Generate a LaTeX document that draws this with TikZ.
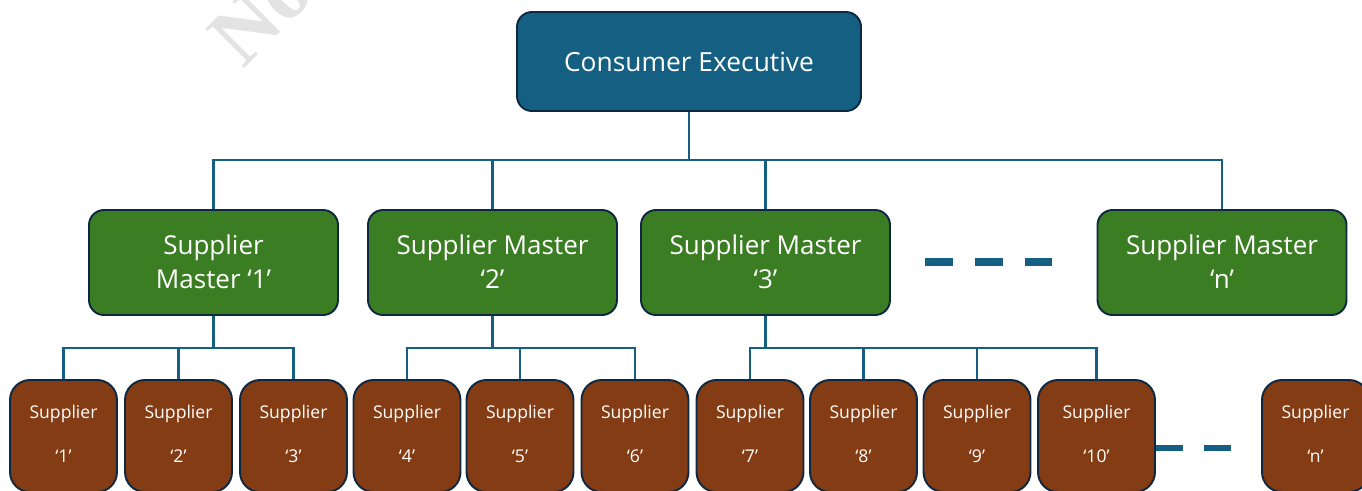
\documentclass[tikz,border=0pt]{standalone}
\usepackage{fontspec}
\setmainfont{Open Sans}
\newfontfamily\markfont{Liberation Serif}
\usepackage{tikz}

\definecolor{execblue}{HTML}{156082}
\definecolor{mastergreen}{HTML}{3B7D23}
\definecolor{supplierbrown}{HTML}{843C15}
\definecolor{edgenavy}{HTML}{0E2841}
\definecolor{markgray}{HTML}{E3E3E3}

\begin{document}
\begin{tikzpicture}[every node/.style={text=white,inner sep=0pt},
  exec/.style={rectangle,draw=edgenavy,line width=1.1pt,fill=execblue,rounded corners=0.3cm,minimum width=6.88cm,minimum height=1.98cm,font=\fontsize{15}{18}\selectfont},
  master/.style={rectangle,draw=edgenavy,line width=1.1pt,fill=mastergreen,rounded corners=0.3cm,minimum width=4.98cm,minimum height=2.1cm,text depth=11.9pt,font=\fontsize{14.8}{17.8}\selectfont},
  supplier/.style={rectangle,draw=edgenavy,line width=1.1pt,fill=supplierbrown,rounded corners=0.4cm,minimum width=2.14cm,minimum height=2.24cm,font=\fontsize{10}{12}\selectfont},
  link/.style={draw=execblue,line width=1.3pt},
  gap/.style={draw=execblue,line width=4pt,dash pattern=on 0.56cm off 0.44cm}]

\useasboundingbox (0,0) rectangle (27.24,-9.8);
\clip (0,0) rectangle (27.24,-9.8);

\node (mark) at (4.86,-1.4) [anchor=base west,rotate=45,text=markgray,font=\markfont\bfseries\fontsize{48}{48}\selectfont] {No};

\node (exec) at (13.78,-1.23) [exec] {Consumer Executive};

\node (master1) at (4.27,-5.25) [master] {\begin{tabular}{c}Supplier\\[1.5pt]Master ‘1’\end{tabular}};
\node (master2) at (9.85,-5.25) [master] {\begin{tabular}{c}Supplier Master\\[1.5pt]‘2’\end{tabular}};
\node (master3) at (15.31,-5.25) [master] {\begin{tabular}{c}Supplier Master\\[1.5pt]‘3’\end{tabular}};
\node (mastern) at (24.44,-5.25) [master] {\begin{tabular}{c}Supplier Master\\[1.5pt]‘n’\end{tabular}};

\node (supplier1) at (1.27,-8.72) [supplier] {\begin{tabular}{c}Supplier\\[13pt]‘1’\end{tabular}};
\node (supplier2) at (3.57,-8.72) [supplier] {\begin{tabular}{c}Supplier\\[13pt]‘2’\end{tabular}};
\node (supplier3) at (5.87,-8.72) [supplier] {\begin{tabular}{c}Supplier\\[13pt]‘3’\end{tabular}};
\node (supplier4) at (8.14,-8.72) [supplier] {\begin{tabular}{c}Supplier\\[13pt]‘4’\end{tabular}};
\node (supplier5) at (10.4,-8.72) [supplier] {\begin{tabular}{c}Supplier\\[13pt]‘5’\end{tabular}};
\node (supplier6) at (12.7,-8.72) [supplier] {\begin{tabular}{c}Supplier\\[13pt]‘6’\end{tabular}};
\node (supplier7) at (15.0,-8.72) [supplier] {\begin{tabular}{c}Supplier\\[13pt]‘7’\end{tabular}};
\node (supplier8) at (17.27,-8.72) [supplier] {\begin{tabular}{c}Supplier\\[13pt]‘8’\end{tabular}};
\node (supplier9) at (19.54,-8.72) [supplier] {\begin{tabular}{c}Supplier\\[13pt]‘9’\end{tabular}};
\node (supplier10) at (21.93,-8.72) [supplier,minimum width=2.34cm] {\begin{tabular}{c}Supplier\\[13pt]‘10’\end{tabular}};
\node (suppliern) at (26.31,-8.72) [supplier] {\begin{tabular}{c}Supplier\\[13pt]‘n’\end{tabular}};

\coordinate (bus) at (13.78,-3.2);
\draw[link] (exec.south) -- (bus) -| (master1.north);
\draw[link] (bus) -| (master2.north);
\draw[link] (bus) -| (master3.north);
\draw[link] (bus) -| (mastern.north);

\coordinate (bus1) at (4.27,-6.96);
\draw[link] (master1.south) -- (bus1) -| (supplier1.north);
\draw[link] (bus1) -| (supplier2.north);
\draw[link] (bus1) -| (supplier3.north);

\coordinate (bus2) at (9.85,-6.96);
\draw[link] (master2.south) -- (bus2) -| (supplier4.north);
\draw[link] (bus2) -| (supplier5.north);
\draw[link] (bus2) -| (supplier6.north);

\coordinate (bus3) at (15.31,-6.96);
\draw[link] (master3.south) -- (bus3) -| (supplier7.north);
\draw[link] (bus3) -| (supplier8.north);
\draw[link] (bus3) -| (supplier9.north);
\draw[link] (bus3) -| (supplier10.north);

\coordinate (gapa) at (18.5,-5.24);
\coordinate (gapb) at (21.04,-5.24);
\draw[gap] (gapa) -- (gapb);

\coordinate (gapc) at (24.62,-8.96);
\draw[gap,line width=3.4pt,dash pattern=on 0.54cm off 0.42cm] ([yshift=-0.24cm]supplier10.east) -- (gapc);

\end{tikzpicture}
\end{document}
